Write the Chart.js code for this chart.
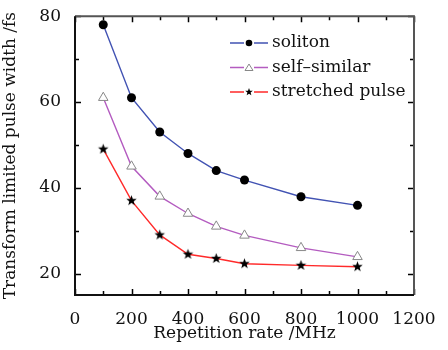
<!DOCTYPE html>
<html>
<head>
<meta charset="utf-8">
<script src="https://cdn.jsdelivr.net/npm/chart.js@4"></script>
<style>
  body { margin: 0; background: #fff; }
  #wrap { width: 448px; height: 350px; }
</style>
</head>
<body>
<div id="wrap"><canvas id="grafica"></canvas></div>
<script>
const tasas = [100, 200, 300, 400, 500, 600, 800, 1000];
const soliton = [78, 61, 53, 48, 44, 41.8, 37.9, 35.9];
const autoSimilar = [61, 45, 38, 34, 31, 28.9, 26, 23.9];
const estirado = [49, 37, 29, 24.5, 23.5, 22.3, 21.9, 21.6];
const nombres = ["soliton", "self\u2013similar", "stretched pulse"];
const ticksX = [0, 200, 400, 600, 800, 1000, 1200];
const ticksY = [20, 40, 60, 80];

const fuente = "DejaVu Serif";

function hacerEstrella(r, color) {
    const c = document.createElement("canvas");
    const s = Math.ceil(r * 2 + 2);
    c.width = s; c.height = s;
    const g = c.getContext("2d");
    g.fillStyle = color;
    g.beginPath();
    for (let i = 0; i < 10; i++) {
        const rad = i % 2 === 0 ? r : r * 0.42;
        const ang = -Math.PI / 2 + i * Math.PI / 5;
        const x = s / 2 + rad * Math.cos(ang);
        const y = s / 2 + rad * Math.sin(ang);
        if (i === 0) g.moveTo(x, y); else g.lineTo(x, y);
    }
    g.closePath();
    g.fill();
    return c;
}

const estrella = hacerEstrella(5.5, "#000");
const estrellaChica = hacerEstrella(4, "#000");

// marco con ticks hacia dentro + leyenda
const marco = {
    id: "marco",
    afterDraw(chart) {
        const { ctx, chartArea: a, scales } = chart;
        ctx.save();
        ctx.lineWidth = 1.5;
        ctx.strokeStyle = "#000";
        for (let v = 0; v <= 1200; v += 100) {
            const x = Math.round(scales.x.getPixelForValue(v)) + 0.5;
            const l = v % 200 === 0 ? 6 : 4;
            ctx.beginPath();
            ctx.moveTo(x, a.bottom); ctx.lineTo(x, a.bottom - l);
            ctx.moveTo(x, a.top); ctx.lineTo(x, a.top + l);
            ctx.stroke();
        }
        for (let v = 20; v <= 80; v += 10) {
            const y = Math.round(scales.y.getPixelForValue(v)) + 0.5;
            const l = v % 20 === 0 ? 6 : 4;
            ctx.beginPath();
            ctx.moveTo(a.left, y); ctx.lineTo(a.left + l, y);
            ctx.moveTo(a.right, y); ctx.lineTo(a.right - l, y);
            ctx.stroke();
        }
        ctx.lineWidth = 2;
        ctx.strokeStyle = "#555";
        ctx.beginPath();
        ctx.moveTo(a.left, a.top); ctx.lineTo(a.right, a.top); ctx.lineTo(a.right, a.bottom);
        ctx.stroke();
        ctx.strokeStyle = "#111";
        ctx.beginPath();
        ctx.moveTo(a.left, a.top); ctx.lineTo(a.left, a.bottom); ctx.lineTo(a.right, a.bottom);
        ctx.stroke();

        const x0 = 230, x1 = 268, xm = 249;
        chart.data.datasets.forEach((ds, i) => {
            const y = 43 + i * 24.5;
            ctx.strokeStyle = ds.borderColor;
            ctx.lineWidth = 1.3;
            ctx.beginPath();
            ctx.moveTo(x0, y); ctx.lineTo(xm - 5, y);
            ctx.moveTo(xm + 5, y); ctx.lineTo(x1, y);
            ctx.stroke();
            if (i === 0) {
                ctx.fillStyle = "#000";
                ctx.beginPath(); ctx.arc(xm, y, 3.3, 0, Math.PI * 2); ctx.fill();
            } else if (i === 1) {
                ctx.strokeStyle = "#888";
                ctx.lineWidth = 1;
                ctx.beginPath();
                ctx.moveTo(xm, y - 3.5); ctx.lineTo(xm + 4, y + 3); ctx.lineTo(xm - 4, y + 3);
                ctx.closePath(); ctx.stroke();
            } else {
                ctx.drawImage(estrellaChica, xm - estrellaChica.width / 2, y - estrellaChica.height / 2);
            }
            ctx.fillStyle = "#111";
            ctx.font = "17px '" + fuente + "'";
            ctx.textBaseline = "middle";
            ctx.textAlign = "left";
            ctx.fillText(ds.label, 272, y);
        });
        ctx.restore();
    }
};

const config = {
    type: "line",
    data: {
        datasets: [
            {
                label: nombres[0],
                data: tasas.map((t, i) => ({ x: t, y: soliton[i] })),
                borderColor: "#4253b3",
                borderWidth: 1.4,
                pointStyle: "circle",
                pointRadius: 4.5,
                pointBackgroundColor: "#000",
                pointBorderColor: "#000",
                pointBorderWidth: 0
            },
            {
                label: nombres[1],
                data: tasas.map((t, i) => ({ x: t, y: autoSimilar[i] })),
                borderColor: "#b45cc0",
                borderWidth: 1.4,
                pointStyle: "triangle",
                pointRadius: 5.5,
                pointBackgroundColor: "#fff",
                pointBorderColor: "#888",
                pointBorderWidth: 1
            },
            {
                label: nombres[2],
                data: tasas.map((t, i) => ({ x: t, y: estirado[i] })),
                borderColor: "#ff2a2a",
                borderWidth: 1.4,
                pointStyle: estrella
            }
        ]
    },
    options: {
        responsive: true,
        maintainAspectRatio: false,
        animation: false,
        layout: { padding: { top: 8, right: 34, left: 0, bottom: 0 } },
        plugins: { legend: { display: false }, tooltip: { enabled: false } },
        scales: {
            x: {
                type: "linear",
                min: 0, max: 1200,
                afterBuildTicks: s => { s.ticks = ticksX.map(v => ({ value: v })); },
                afterFit: s => { s.height = 55; },
                grid: { display: false },
                border: { display: false },
                ticks: { color: "#111", padding: 6, maxRotation: 0, callback: v => String(v), font: { family: fuente, size: 17 } },
                title: { display: true, text: "Repetition rate /MHz", color: "#111", padding: { top: 0, bottom: 6 }, font: { family: fuente, size: 17 } }
            },
            y: {
                type: "linear",
                min: 15, max: 80,
                afterBuildTicks: s => { s.ticks = ticksY.map(v => ({ value: v })); },
                afterFit: s => { s.width = 75; },
                grid: { display: false },
                border: { display: false },
                ticks: { color: "#111", padding: 6, font: { family: fuente, size: 17 } },
                title: { display: true, text: "Transform limited pulse width /fs", color: "#111", padding: { top: 0, bottom: 8 }, font: { family: fuente, size: 17 } }
            }
        }
    },
    plugins: [marco]
};

new Chart(document.querySelector("#grafica"), config);
</script>
</body>
</html>
